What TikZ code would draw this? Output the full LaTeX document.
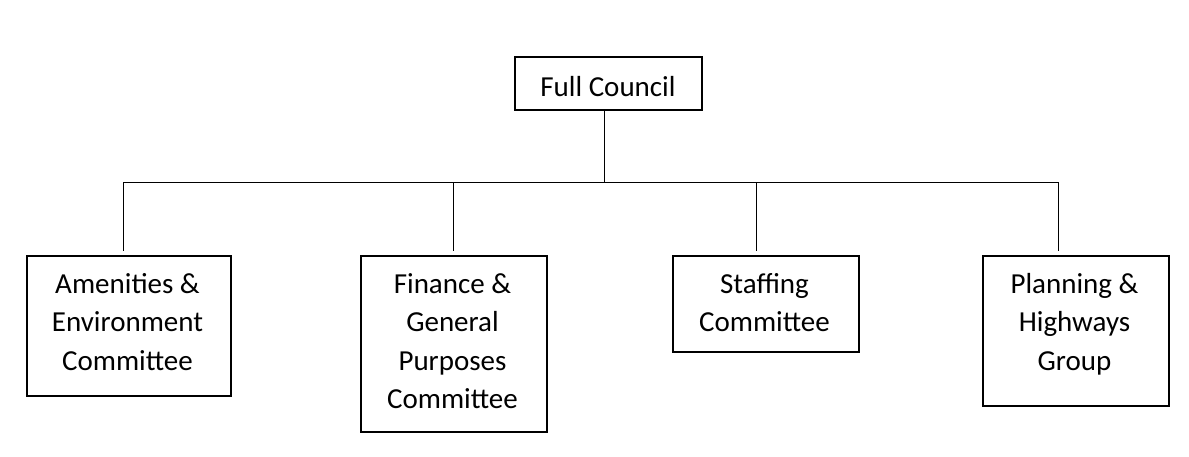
\documentclass[tikz,border=0pt]{standalone}
\usepackage{fontspec}
\setmainfont{Carlito}
\newcommand{\firstline}{\rule{0pt}{24pt}}
\begin{document}
\begin{tikzpicture}[x=1pt,y=-1pt,
  box/.style={draw, line width=2pt, inner sep=0pt, anchor=north west},
  txt/.style={align=center, inner sep=0pt, anchor=north, font=\fontsize{29}{38.5}\selectfont},
  conn/.style={line width=1pt}]
\useasboundingbox (0,0) rectangle (1189,456);
% top box
\node[box, minimum width=187pt, minimum height=53pt, text height=25pt, text depth=0pt,
      font=\fontsize{29}{38.5}\selectfont] (full) at (513.5,56) {Full Council};
% committee boxes
\node[box, minimum width=204pt, minimum height=140pt] (amen) at (25.5,255) {};
\node[box, minimum width=186pt, minimum height=176pt] (fin) at (359.5,255) {};
\node[box, minimum width=186pt, minimum height=96pt] (staff) at (671.5,255) {};
\node[box, minimum width=186pt, minimum height=150pt] (plan) at (981.5,255) {};
% texts
\node[txt] (amentxt) at (127.5,269) {\firstline Amenities \&\\Environment\\Committee};
\node[txt] (fintxt) at (452.5,269) {\firstline Finance \&\\General\\Purposes\\Committee};
\node[txt] (stafftxt) at (764.5,269) {\firstline Staffing\\Committee};
\node[txt] (plantxt) at (1074.5,269) {\firstline Planning \&\\Highways\\Group};
% connectors
\coordinate (hub) at (604,182);
\coordinate (j1) at (123,182);
\coordinate (j2) at (453,182);
\coordinate (j3) at (756,182);
\coordinate (j4) at (1058,182);
\coordinate (e1) at (123,251);
\coordinate (e2) at (453,251);
\coordinate (e3) at (756,251);
\coordinate (e4) at (1058,251);
\draw[conn] (full.south -| hub) -- (hub);
\draw[conn] (j1) -- (j4);
\draw[conn] (j1) -- (e1);
\draw[conn] (j2) -- (e2);
\draw[conn] (j3) -- (e3);
\draw[conn] (j4) -- (e4);
\end{tikzpicture}
\end{document}
